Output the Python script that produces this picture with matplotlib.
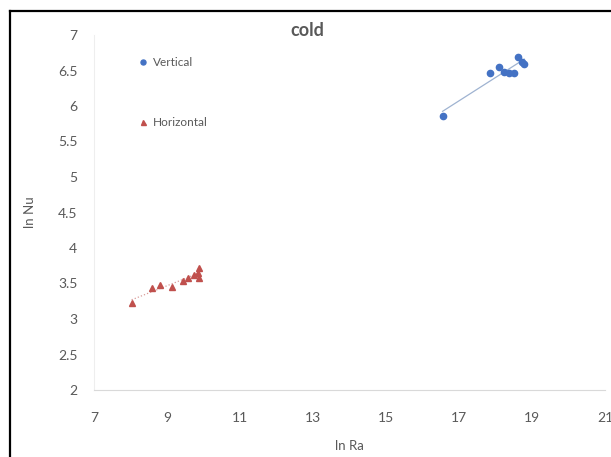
import numpy as np
import matplotlib.pyplot as plt
from matplotlib.lines import Line2D

# ln Ra / ln Nu pairs, cold side
vert_ln_ra = [16.55, 17.86, 18.09, 18.22, 18.36, 18.52, 18.63, 18.72, 18.79]
vert_ln_nu = [5.86, 6.46, 6.55, 6.48, 6.47, 6.46, 6.69, 6.62, 6.59]

horiz_ln_ra = [8.03, 8.60, 8.82, 9.15, 9.45, 9.58, 9.74, 9.88, 9.85, 9.88]
horiz_ln_nu = [3.23, 3.44, 3.48, 3.45, 3.54, 3.58, 3.62, 3.72, 3.65, 3.58]

x_ticks = [7, 9, 11, 13, 15, 17, 19, 21]
y_ticks = [2, 2.5, 3, 3.5, 4, 4.5, 5, 5.5, 6, 6.5, 7]

plt.rcParams['font.family'] = ['Lato', 'DejaVu Sans']
grey = '#595959'

fig = plt.figure(figsize=(6.11, 4.57), dpi=100)
ax = fig.add_axes([94 / 611, 1 - 390 / 457, 511 / 611, 355 / 457])


def trend(ax, x, y, color, ls):
    # straight least-squares line over the data range
    k, b = np.polyfit(x, y, 1)
    xs = np.array([min(x), max(x)])
    ax.plot(xs, k * xs + b, color=color, lw=0.9, ls=ls, zorder=2)


ax.plot(vert_ln_ra, vert_ln_nu, 'o', color='#4472C4', ms=4.5, label='Vertical', zorder=3)
ax.plot(horiz_ln_ra, horiz_ln_nu, '^', color='#C0504D', ms=4.5, label='Horizontal', zorder=3)
trend(ax, vert_ln_ra, vert_ln_nu, '#9fb3d1', '-')
trend(ax, horiz_ln_ra, horiz_ln_nu, '#d99c9a', ':')

ax.set_xlim(7, 21)
ax.set_ylim(2, 7)
ax.set_xticks(x_ticks)
ax.set_yticks(y_ticks)
ax.set_xticklabels([str(t) for t in x_ticks])
ax.set_yticklabels([f'{t:g}' for t in y_ticks])
ax.tick_params(length=0, labelsize=10, labelcolor=grey)
ax.tick_params(axis='x', pad=16)
ax.tick_params(axis='y', pad=12)

for side in ['top', 'right']:
    ax.spines[side].set_visible(False)
ax.spines['bottom'].set_color('#d9d9d9')
ax.spines['left'].set_color('#eeeeee')

ax.set_xlabel('ln Ra', fontsize=9.5, color=grey, labelpad=11)
ax.set_ylabel('ln Nu', fontsize=9.5, color=grey, labelpad=16)
fig.text(307 / 611, 1 - 31 / 457, 'cold', ha='center', va='center',
         fontsize=13, fontweight='bold', color=grey)

leg = ax.legend(loc='upper left', bbox_to_anchor=(134 / 611, 1 - 51 / 457),
                bbox_transform=fig.transFigure, frameon=False, fontsize=8.5,
                handlelength=0.6, handletextpad=0.5, labelspacing=4.2,
                borderpad=0, labelcolor=grey, markerscale=0.8)

# outer frame (left and top edges)
fig.add_artist(Line2D([10 / 611, 10 / 611], [0, 1 - 11 / 457], color='black', lw=1.6))
fig.add_artist(Line2D([10 / 611, 1], [1 - 11 / 457, 1 - 11 / 457], color='black', lw=1.6))

fig.savefig('out.png', dpi=100)
